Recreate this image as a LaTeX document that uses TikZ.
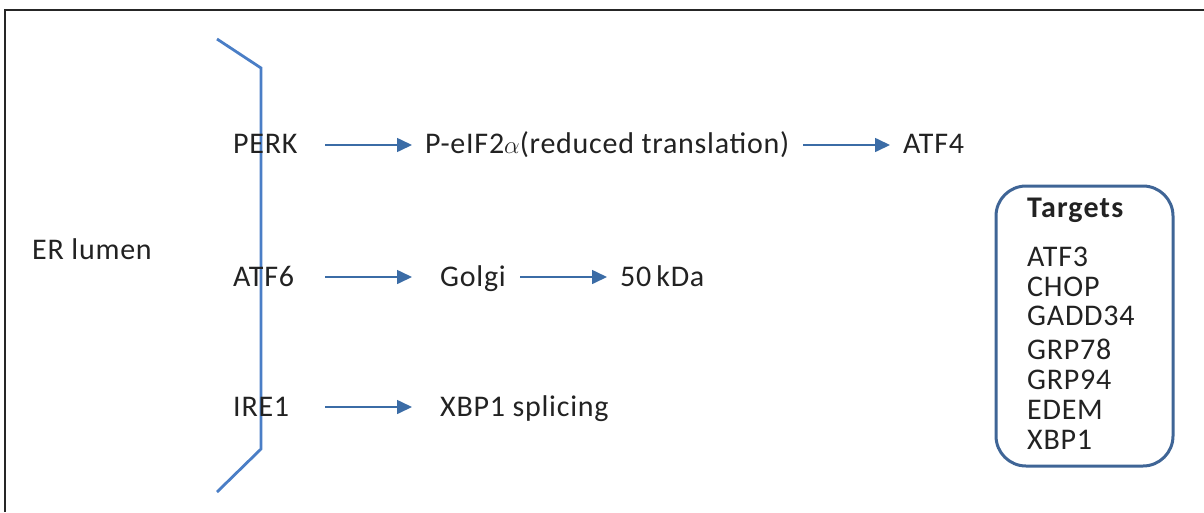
\documentclass[tikz,border=0pt]{standalone}
\usepackage{fontspec}
\setmainfont{Carlito}[LetterSpace=2.5]
\usetikzlibrary{arrows.meta}
\definecolor{brk}{HTML}{4A7EC6}
\definecolor{arr}{HTML}{3B6CA6}
\definecolor{boxc}{HTML}{3F6596}
\definecolor{txt}{HTML}{222222}
\begin{document}
\begin{tikzpicture}[x=1pt,y=-1pt,
  lbl/.style={anchor=base west,inner sep=0pt,text=txt,font=\fontsize{30}{32}\selectfont},
  flow/.style={draw=arr,line width=1.6pt,-{Triangle[length=15pt,width=14pt]}}]
\useasboundingbox (0,0) rectangle (1204,512);
% frame
\draw[line width=2pt,draw=black!85] (5,512) -- (5,10) -- (1204,10);
% membrane bracket
\draw[brk,line width=2.8pt] (217,39) -- (261,68) -- (261,449) -- (217,492);
% labels
\node[lbl] (er) at (32,259) {ER lumen};
\node[lbl] (perk) at (233,153) {PERK};
\node[lbl] (peif) at (425,153) {P-eIF2{\fontsize{34}{34}\selectfont$\alpha$}(reduced translation)};
\node[lbl] (atf4) at (903,153) {ATF4};
\node[lbl] (atf6) at (233,286) {ATF6};
\node[lbl] (golgi) at (440,286) {Golgi};
\node[lbl] (kda) at (620,286) {50\,kDa};
\node[lbl] (ire) at (233,416) {IRE1};
\node[lbl] (xbp) at (440,416) {XBP1 splicing};
% arrows
\coordinate (a1s) at (325,145); \coordinate (a1e) at (412,145);
\coordinate (a2s) at (803,145); \coordinate (a2e) at (890,145);
\coordinate (a3s) at (325,277); \coordinate (a3e) at (412,277);
\coordinate (a4s) at (520,277); \coordinate (a4e) at (607,277);
\coordinate (a5s) at (325,407); \coordinate (a5e) at (412,407);
\draw[flow] (a1s) -- (a1e);
\draw[flow] (a2s) -- (a2e);
\draw[flow] (a3s) -- (a3e);
\draw[flow] (a4s) -- (a4e);
\draw[flow] (a5s) -- (a5e);
% targets box
\node[draw=boxc,line width=3pt,rounded corners=30pt,minimum width=177pt,minimum height=280pt,anchor=north west] (box) at (994.5,184.5) {};
\node[lbl,font=\bfseries\fontsize{30}{32}\selectfont\addfontfeatures{LetterSpace=4}] (tg) at (1027,217) {Targets};
\node[lbl] (t1) at (1027,266) {ATF3};
\node[lbl] (t2) at (1027,296) {CHOP};
\node[lbl] (t3) at (1027,325) {GADD34};
\node[lbl] (t4) at (1027,359) {GRP78};
\node[lbl] (t5) at (1027,389) {GRP94};
\node[lbl] (t6) at (1027,419) {EDEM};
\node[lbl] (t7) at (1027,449) {XBP1};
\end{tikzpicture}
\end{document}
